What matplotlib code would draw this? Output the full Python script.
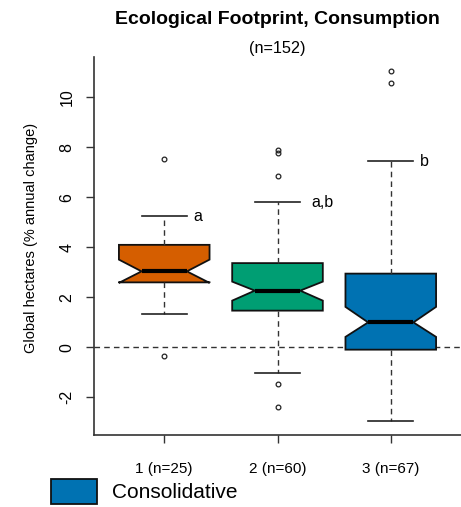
import matplotlib
matplotlib.use("Agg")
import matplotlib.pyplot as plt
from matplotlib.patches import Patch

plt.rcParams['font.family'] = ['Liberation Sans', 'DejaVu Sans']

Title = "Ecological Footprint, Consumption"
Subtitle = "(n=152)"

groups = ['1 (n=25)', '2 (n=60)', '3 (n=67)']
medians = [3.03, 2.26, 0.99]
q1s = [2.59, 1.46, -0.10]
q3s = [4.09, 3.36, 2.94]
notch_lo = [2.57, 1.86, 0.41]
notch_hi = [3.50, 2.62, 1.61]
whisk_lo = [1.34, -1.04, -2.94]
whisk_hi = [5.23, 5.79, 7.43]
outliers = [[7.54, -0.37],
            [7.87, 7.77, 6.83, -1.46, -2.41],
            [11.03, 10.57]]
letters = ['a', 'a,b', 'b']
letter_offset = [0.30, 0.40, 0.30]

colors = ['#D55E00', '#009E73', '#0072B2']

stats = []
for i in range(len(groups)):
    stats.append({
        'med': medians[i], 'q1': q1s[i], 'q3': q3s[i],
        'cilo': notch_lo[i], 'cihi': notch_hi[i],
        'whislo': whisk_lo[i], 'whishi': whisk_hi[i],
        'fliers': outliers[i],
    })

fig = plt.figure(figsize=(4.61, 5.07), dpi=100)
ax = fig.add_axes([94 / 461, (507 - 434.7) / 507, (461 - 94) / 461, (434.7 - 57) / 507])

bp = ax.bxp(stats, positions=[1, 2, 3], widths=0.8, shownotches=True,
            patch_artist=True,
            boxprops={'linewidth': 1.3, 'edgecolor': '#111111'},
            medianprops={'color': '#000000', 'linewidth': 3.0, 'solid_capstyle': 'butt'},
            whiskerprops={'color': '#333333', 'linewidth': 1.0, 'linestyle': (0, (4, 3))},
            capprops={'color': '#222222', 'linewidth': 1.2},
            flierprops={'marker': 'o', 'markersize': 3.4, 'markerfacecolor': 'none',
                        'markeredgecolor': '#222222', 'markeredgewidth': 0.9})
for patch, c in zip(bp['boxes'], colors):
    patch.set_facecolor(c)

# zero reference line
ax.axhline(0, color='#333333', linewidth=1.0, linestyle=(0, (4, 3)), zorder=0.5)

# significance letters next to the upper whisker caps
for i, lab in enumerate(letters):
    ax.text(i + 1 + letter_offset[i], whisk_hi[i], lab, ha='center', va='center', fontsize=11.5)

ax.set_xlim(0.38, 3.62)
ax.set_ylim(-3.5, 11.6)
ax.set_xticks([1, 2, 3])
ax.set_xticklabels(groups, fontsize=11)
ax.set_yticks([-2, 0, 2, 4, 6, 8, 10])
ax.set_yticklabels(['-2', '0', '2', '4', '6', '8', '10'], rotation=90, va='center', fontsize=11.5)
ax.tick_params(axis='both', length=6, width=1.0, color='#333333', direction='out')
ax.tick_params(axis='x', pad=14)
ax.tick_params(axis='y', pad=8)
ax.spines['top'].set_visible(False)
ax.spines['right'].set_visible(False)
for s in ['left', 'bottom']:
    ax.spines[s].set_linewidth(1.2)
    ax.spines[s].set_color('#333333')

ax.set_ylabel('Global hectares (% annual change)', fontsize=10.5)
ax.yaxis.set_label_coords(-0.153, 0.521)

fig.text(277 / 461, 1 - 20 / 507, Title, ha='center', va='center', fontsize=14, fontweight='bold')
fig.text(277 / 461, 1 - 48 / 507, Subtitle, ha='center', va='center', fontsize=11.7)

handle = Patch(facecolor=colors[2], edgecolor='#111111', linewidth=1.3)
fig.legend([handle], ['Consolidative'], loc='upper left',
           bbox_to_anchor=(51 / 461, 1 - 479 / 507), frameon=False, fontsize=15,
           handlelength=2.2, handleheight=1.45, handletextpad=0.75, borderpad=0, borderaxespad=0)

fig.savefig('out.png', dpi=100)
